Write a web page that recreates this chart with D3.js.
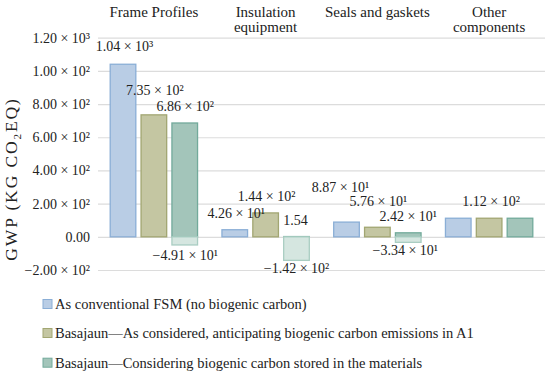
<!DOCTYPE html>
<html>
<head>
<meta charset="utf-8">
<script src="https://cdn.jsdelivr.net/npm/d3@7"></script>
<style>
  body { margin: 0; background: #fff; }
  svg text, svg tspan { font-family: "Liberation Serif", "DejaVu Serif", serif; fill: #222; }
</style>
</head>
<body>
<script>
var categories = ["Frame Profiles", "Insulation\nequipment", "Seals and gaskets", "Other\ncomponents"];
var seriesNames = [
  "As conventional FSM (no biogenic carbon)",
  "Basajaun\u2014As considered, anticipating biogenic carbon emissions in A1",
  "Basajaun\u2014Considering biogenic carbon stored in the materials"
];
var conventional = [1040, 42.6, 88.7, 112];
var asConsidered = [735, 144, 57.6, 112];
var storedPos = [686, 1.54, 24.2, 112];
var storedNeg = [-49.1, -142, -33.4, 0];
var tickValues = [-200, 0, 200, 400, 600, 800, 1000, 1200];
var tickLabels = ["\u22122.00 \u00d7 10\u00b2", "0.00", "2.00 \u00d7 10\u00b2", "4.00 \u00d7 10\u00b2",
                  "6.00 \u00d7 10\u00b2", "8.00 \u00d7 10\u00b2", "1.00 \u00d7 10\u00b2", "1.20 \u00d7 10\u00b3"];

var width = 550, height = 377;
var plotLeft = 98, plotRight = 545, plotTop = 37.7, plotBottom = 270;

var fills = ["#b9cde5", "#c4c6a2", "#a3c5ba"];
var strokes = ["#8aaed6", "#a2a672", "#72aa9b"];
var negFill = "#d5e6e0", negStroke = "#a9cdc2";

var svg = d3.select("body").append("svg")
  .attr("width", width)
  .attr("height", height)
  .attr("font-family", "Liberation Serif");

var y = d3.scaleLinear().domain([-200, 1200]).range([plotBottom, plotTop]);
var x0 = d3.scaleBand().domain(d3.range(categories.length)).range([plotLeft, plotRight]);
var x1 = d3.scaleBand().domain([0, 1, 2]).range([12.2, x0.bandwidth() - 12.2]).paddingInner(0.17);

// grid + tick labels
var axis = svg.append("g")
  .attr("transform", "translate(" + plotLeft + ",0)")
  .call(d3.axisLeft(y)
    .tickValues(tickValues)
    .tickSize(-(plotRight - plotLeft))
    .tickPadding(8)
    .tickFormat(function(d, i) { return tickLabels[i]; }));
axis.attr("font-family", null).attr("font-size", null);
axis.select(".domain").remove();
axis.selectAll(".tick line").attr("stroke", "#dcdcdc").attr("stroke-width", 1.2);
axis.selectAll(".tick text")
  .attr("font-size", "14px")
  .attr("fill", "#222")
  .attr("dy", "0.32em");

// bars
var series = [conventional, asConsidered, storedPos];
series.forEach(function(vals, s) {
  svg.append("g").selectAll("rect")
    .data(vals)
    .enter()
    .append("rect")
    .attr("x", function(d, i) { return x0(i) + x1(s); })
    .attr("y", function(d) { return y(Math.max(0, d)); })
    .attr("width", x1.bandwidth())
    .attr("height", function(d) { return Math.abs(y(d) - y(0)); })
    .attr("fill", fills[s])
    .attr("stroke", strokes[s])
    .attr("stroke-width", 1.3);
});
svg.append("g").selectAll("rect")
  .data(storedNeg)
  .enter()
  .append("rect")
  .attr("x", function(d, i) { return x0(i) + x1(2); })
  .attr("y", y(0))
  .attr("width", x1.bandwidth())
  .attr("height", function(d) { return y(d) - y(0); })
  .attr("fill", negFill)
  .attr("stroke", function(d) { return d < 0 ? negStroke : "none"; })
  .attr("stroke-width", 1.3);

// value labels
var sup = { "1": "\u00b9", "2": "\u00b2", "3": "\u00b3" };
function fmt(v) {
  var a = Math.abs(v);
  var e = Math.floor(Math.log10(a));
  var m = (a / Math.pow(10, e)).toFixed(2);
  var s = v < 0 ? "\u2212" : "";
  return e === 0 ? s + m : s + m + " \u00d7 10" + sup[e];
}
// [series, category, gap from bar end, x shift]
var allSeries = [conventional, asConsidered, storedPos, storedNeg];
var labelSpots = [
  [0, 0, 13, 1.5], [1, 0, 20, 1], [2, 0, 12, 0.5], [3, 0, 15.5, 0.5],
  [0, 1, 12, 1.5], [1, 1, 12, 1], [2, 1, 12, -1], [3, 1, 13, 0],
  [0, 2, 30, -6], [1, 2, 21, 1], [2, 2, 12, 0], [3, 2, 13, -3],
  [1, 3, 12, 2]
];
svg.append("g").selectAll("text")
  .data(labelSpots)
  .enter()
  .append("text")
  .attr("text-anchor", "middle")
  .attr("font-size", "14px")
  .attr("x", function(d) { return x0(d[1]) + x1(Math.min(d[0], 2)) + x1.bandwidth() / 2 + d[3]; })
  .attr("y", function(d) {
    var v = allSeries[d[0]][d[1]];
    return v < 0 ? y(v) + d[2] : y(v) - d[2];
  })
  .text(function(d) { return fmt(allSeries[d[0]][d[1]]); });

// category labels on top
categories.forEach(function(c, i) {
  var cx = x0(i) + x0.bandwidth() / 2;
  var t = svg.append("text")
    .attr("text-anchor", "middle")
    .attr("font-size", "15px")
    .attr("x", cx)
    .attr("y", 17);
  c.split("\n").forEach(function(line, k) {
    t.append("tspan")
      .attr("x", cx)
      .attr("dy", k === 0 ? 0 : 15)
      .text(line);
  });
});

// y axis title
var title = svg.append("text")
  .attr("transform", "translate(17,179) rotate(-90)")
  .attr("text-anchor", "middle")
  .attr("font-size", "17.5px")
  .attr("letter-spacing", "1.9px");
title.append("tspan").text("GWP (KG CO");
title.append("tspan").attr("font-size", "11px").attr("dy", 4).text("2");
title.append("tspan").attr("dy", -4).text("EQ)");

// legend
var legendY = [304, 333, 362.7];
seriesNames.forEach(function(n, i) {
  svg.append("rect")
    .attr("x", 43).attr("y", legendY[i] - 4.5)
    .attr("width", 9).attr("height", 9)
    .attr("fill", fills[i]).attr("stroke", strokes[i]).attr("stroke-width", 1);
  svg.append("text")
    .attr("x", 55).attr("y", legendY[i] + 5)
    .attr("font-size", "14.5px")
    .text(n);
});
</script>
</body>
</html>
